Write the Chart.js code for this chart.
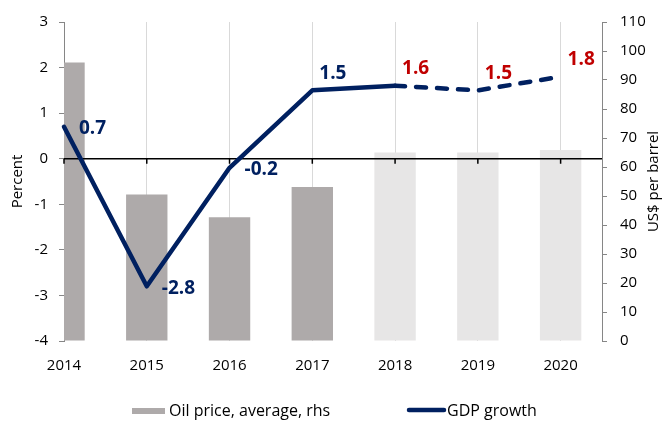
<!DOCTYPE html>
<html>
<head>
<meta charset="utf-8">
<script src="https://cdn.jsdelivr.net/npm/chart.js@4"></script>
<style>
  html, body { margin: 0; padding: 0; background: #fff; }
  #wrap { width: 663px; height: 421px; }
</style>
</head>
<body>
<div id="wrap"><canvas id="chart"></canvas></div>
<script>
// data
const years = [2014, 2015, 2016, 2017, 2018, 2019, 2020];
const oilPrice = [96, 50.5, 42.7, 53.1, 65, 65, 65.9];
const gdpGrowth = [0.7, -2.8, -0.2, 1.5, 1.6, 1.5, 1.8];
const gdpLabels = ['0.7', '-2.8', '-0.2', '1.5', '1.6', '1.5', '1.8'];
const forecastFrom = 4; // 2018 onwards are projections

const NAVY = '#002060';
const RED = '#C00000';
const GREY = '#AEAAAA';
const LIGHT = '#E7E6E6';
const FONT = '"Open Sans"';

Chart.defaults.font.family = FONT;
Chart.defaults.font.size = 15;
Chart.defaults.color = '#000';

// black zero line with small ticks, drawn over bars but under the line
const zeroLine = {
    id: 'zeroLine',
    afterDatasetDraw(chart, args) {
        if (args.index !== 0) return;
        const ctx = chart.ctx, a = chart.chartArea;
        const y0 = chart.scales.y.getPixelForValue(0);
        ctx.save();
        ctx.strokeStyle = '#000';
        ctx.lineWidth = 1.5;
        ctx.beginPath();
        ctx.moveTo(a.left, y0);
        ctx.lineTo(a.right, y0);
        years.forEach(function (yr) {
            const x = chart.scales.x.getPixelForValue(yr);
            ctx.moveTo(x, y0);
            ctx.lineTo(x, y0 + 5);
        });
        ctx.stroke();
        ctx.restore();
    }
};

// value labels on the GDP line, right axis title and the legend
const labelsPlugin = {
    id: 'labelsPlugin',
    afterDatasetsDraw(chart) {
        const ctx = chart.ctx;
        const meta = chart.getDatasetMeta(1);
        ctx.save();
        ctx.font = 'bold 19px ' + FONT;
        ctx.textAlign = 'left';
        ctx.textBaseline = 'middle';
        meta.data.forEach(function (pt, i) {
            ctx.fillStyle = i < forecastFrom ? NAVY : RED;
            if (i < 3) ctx.fillText(gdpLabels[i], pt.x + 15, pt.y + 2);
            else ctx.fillText(gdpLabels[i], pt.x + 7, pt.y - 17);
        });
        ctx.restore();
    },
    afterDraw(chart) {
        const ctx = chart.ctx, a = chart.chartArea;
        ctx.save();
        ctx.translate(654, (a.top + a.bottom) / 2);
        ctx.rotate(-Math.PI / 2);
        ctx.font = '15px ' + FONT;
        ctx.fillStyle = '#000';
        ctx.textAlign = 'center';
        ctx.textBaseline = 'middle';
        ctx.fillText('US$ per barrel', 0, 0);
        ctx.restore();

        // legend
        const ly = 411;
        ctx.save();
        ctx.font = '16px ' + FONT;
        ctx.textBaseline = 'middle';
        ctx.fillStyle = GREY;
        ctx.fillRect(132, ly - 3, 33, 6);
        ctx.fillStyle = '#000';
        ctx.fillText(chart.data.datasets[0].label, 169, ly);
        ctx.strokeStyle = NAVY;
        ctx.lineWidth = 4.5;
        ctx.lineCap = 'round';
        ctx.beginPath();
        ctx.moveTo(409, ly - 1);
        ctx.lineTo(444, ly - 1);
        ctx.stroke();
        ctx.fillText(chart.data.datasets[1].label, 447, ly);
        ctx.restore();
    }
};

const ctx = document.getElementById('chart').getContext('2d');

const chart = new Chart(ctx, {
    data: {
        datasets: [{
            type: 'bar',
            label: 'Oil price, average, rhs',
            data: years.map((x, i) => ({ x: x, y: oilPrice[i] })),
            yAxisID: 'y2',
            backgroundColor: c => c.dataIndex >= forecastFrom ? LIGHT : GREY,
            barPercentage: 0.5,
            categoryPercentage: 1,
            order: 2
        }, {
            type: 'line',
            label: 'GDP growth',
            data: years.map((x, i) => ({ x: x, y: gdpGrowth[i] })),
            yAxisID: 'y',
            borderColor: NAVY,
            backgroundColor: NAVY,
            borderWidth: 4.5,
            borderJoinStyle: 'round',
            borderCapStyle: 'round',
            pointRadius: 0,
            tension: 0,
            clip: false,
            segment: {
                borderDash: c => c.p0DataIndex >= forecastFrom ? [10, 11] : undefined
            },
            order: 1
        }]
    },
    options: {
        responsive: true,
        maintainAspectRatio: false,
        animation: false,
        layout: { padding: { top: 21, right: 0, bottom: 40, left: 0 } },
        plugins: {
            tooltip: { enabled: false },
            legend: { display: false }
        },
        scales: {
            x: {
                type: 'linear',
                offset: false,
                min: 2014,
                max: 2020.5,
                afterFit: s => { s.height = 40; },
                ticks: {
                    stepSize: 1,
                    includeBounds: false,
                    autoSkip: false,
                    padding: 16,
                    callback: v => Number.isInteger(v) ? String(v) : ''
                },
                grid: { color: '#D9D9D9', drawTicks: false, offset: false },
                border: { display: false }
            },
            y: {
                position: 'left',
                min: -4,
                max: 3,
                afterFit: s => { s.width = 64; },
                ticks: { stepSize: 1, padding: 11 },
                grid: { drawOnChartArea: false, tickLength: 5, color: '#868686' },
                border: { color: '#868686' },
                title: { display: true, text: 'Percent', font: { size: 15 }, padding: { top: 9, bottom: 0 } }
            },
            y2: {
                position: 'right',
                min: 0,
                max: 110,
                afterFit: s => { s.width = 61; },
                ticks: { stepSize: 10, padding: 13 },
                grid: { drawOnChartArea: false, tickLength: 5, color: '#868686' },
                border: { color: '#868686' }
            }
        }
    },
    plugins: [zeroLine, labelsPlugin]
});
</script>
</body>
</html>
